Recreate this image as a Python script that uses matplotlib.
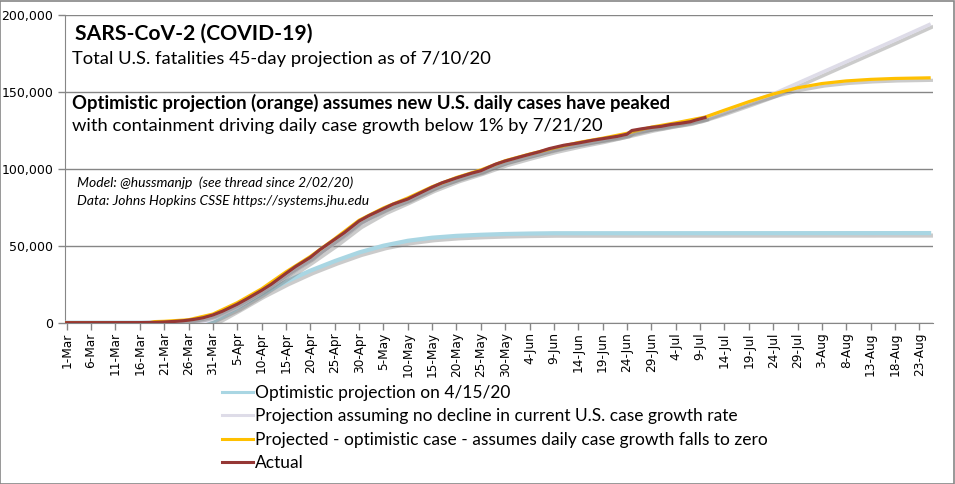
import matplotlib
matplotlib.use("Agg")
import matplotlib.pyplot as plt
import matplotlib.patheffects as pe
from matplotlib.patches import Rectangle

# tick labels (every 5 days from 1-Mar)
tick_labels = ["1-Mar", "6-Mar", "11-Mar", "16-Mar", "21-Mar", "26-Mar", "31-Mar",
               "5-Apr", "10-Apr", "15-Apr", "20-Apr", "25-Apr", "30-Apr",
               "5-May", "10-May", "15-May", "20-May", "25-May", "30-May",
               "4-Jun", "9-Jun", "14-Jun", "19-Jun", "24-Jun", "29-Jun",
               "4-Jul", "9-Jul", "14-Jul", "19-Jul", "24-Jul", "29-Jul",
               "3-Aug", "8-Aug", "13-Aug", "18-Aug", "23-Aug"]
tick_days = [5 * i for i in range(len(tick_labels))]

# Optimistic projection on 4/15/20 (light blue)
blue_day = [0, 27, 30, 35, 40, 45, 50, 55, 60, 65, 70, 75, 80, 85, 90, 95, 100, 177]
blue_val = [0, 0, 600, 9400, 18500, 26600, 33800, 40000, 45600, 50000, 53200,
            55200, 56400, 57100, 57600, 57900, 58100, 58200]

# Projection assuming no decline in current growth rate (lavender grey)
gray_day = [0, 25, 28, 30, 35, 40, 45, 50, 55, 60, 65, 70, 75, 80, 85, 90, 95, 100,
            105, 110, 115, 120, 125, 130, 135, 140, 145, 150, 155, 160, 165, 170, 177]
gray_val = [0, 0, 400, 2500, 10000, 19500, 30000, 40500, 51500, 63500, 72500, 79500,
            87000, 93200, 98200, 103800, 108200, 112300, 115800, 118900, 122500,
            126200, 129200, 132300, 137300, 142800, 148500, 155500, 162500, 169500,
            176500, 183500, 193500]

# Projected - optimistic case (orange)
orange_day = [0, 17, 18, 20, 25, 30, 35, 40, 45, 50, 55, 60, 65, 70, 75, 80, 85, 90,
              95, 100, 105, 110, 115, 120, 125, 131, 135, 140, 145, 150, 155, 160,
              165, 170, 177]
orange_val = [0, 0, 700, 900, 1900, 5600, 13000, 22000, 33000, 43000, 54500, 66500,
              74500, 81000, 88300, 94300, 99200, 105200, 109500, 113300, 117000,
              119800, 123000, 127000, 129800, 133500, 138000, 143500, 148500, 152500,
              155300, 157000, 158000, 158600, 159000]

# Actual (dark red)
actual_day = [0, 15, 18, 20, 22, 24, 26, 28, 30, 32, 35, 37, 40, 42, 45, 47, 50, 52,
              55, 57, 60, 62, 65, 67, 70, 72, 75, 77, 80, 83, 85, 88, 90, 94, 97, 99,
              102, 105, 108, 111, 113, 115, 116, 118, 120, 122, 124, 126, 128, 129, 131]
actual_val = [0, 50, 200, 450, 800, 1300, 2100, 3200, 5000, 7500, 12000, 15500,
              21000, 25000, 32000, 36500, 42400, 47500, 54100, 58500, 66000, 69500,
              74000, 77000, 80300, 83400, 88000, 90800, 94000, 97000, 98700, 102900,
              105000, 108500, 111000, 113000, 115200, 116700, 118500, 120000, 121000,
              122400, 124800, 125900, 126800, 127500, 128700, 129500, 130500, 131500,
              133200]

fig = plt.figure(figsize=(9.55, 4.84), dpi=100)
ax = fig.add_axes([65 / 955, 1 - 322.7 / 484, (933 - 65) / 955, (322.7 - 14.7) / 484])

shadow = [pe.SimpleLineShadow(offset=(1.8, -1.8), shadow_color="#7f7f7f", alpha=0.4),
          pe.Normal()]

ax.plot(blue_day, blue_val, color="#A9D6E3", lw=3.0, path_effects=shadow,
        label="Optimistic projection on 4/15/20", zorder=3)
ax.plot(gray_day, gray_val, color="#DEDCE8", lw=2.6, path_effects=shadow,
        label="Projection assuming no decline in current U.S. case growth rate", zorder=4)
ax.plot(orange_day, orange_val, color="#FFC000", lw=2.3, path_effects=shadow,
        label="Projected - optimistic case - assumes daily case growth falls to zero", zorder=5)
ax.plot(actual_day, actual_val, color="#953735", lw=2.3, path_effects=shadow,
        label="Actual", zorder=6)

ax.set_xlim(-0.35, 177.8)
ax.set_ylim(0, 200000)
ax.set_yticks([0, 50000, 100000, 150000, 200000])
ax.set_yticklabels(["0", "50,000", "100,000", "150,000", "200,000"])
ax.set_xticks(tick_days)
ax.set_xticklabels(tick_labels, rotation=90)
ax.tick_params(axis="both", labelsize=9, colors="#868686", labelcolor="black",
               length=5, width=1, direction="out")
ax.tick_params(axis="x", labelsize=8.7, pad=2)
ax.grid(axis="y", color="#868686", lw=1)
ax.set_axisbelow(True)
for side in ["top", "right"]:
    ax.spines[side].set_visible(False)
for side in ["left", "bottom"]:
    ax.spines[side].set_color("#868686")

def txt(x, y, s, **kw):
    fig.text(x / 955, 1 - y / 484, s, va="center", ha="left", family="Lato", **kw)

txt(75, 34, "SARS-CoV-2 (COVID-19)", fontsize=15.2, fontweight="bold")
txt(72, 59, "Total U.S. fatalities 45-day projection as of 7/10/20", fontsize=13.2)
txt(72, 103, "Optimistic projection (orange) assumes new U.S. daily cases have peaked",
    fontsize=13.3, fontweight="bold")
txt(72, 126, "with containment driving daily case growth below 1% by 7/21/20", fontsize=13.2)
txt(77, 183, "Model: @hussmanjp  (see thread since 2/02/20)", fontsize=10, style="italic")
txt(77, 201, "Data: Johns Hopkins CSSE https://systems.jhu.edu", fontsize=10, style="italic")

leg = fig.legend(loc="upper left", bbox_to_anchor=(222 / 955, 1 - 385 / 484),
                 frameon=False, prop={"family": "Lato", "size": 12.5},
                 handlelength=1.8, handletextpad=0.1, labelspacing=0.42,
                 borderpad=0, borderaxespad=0)
for h in leg.get_lines():
    h.set_linewidth(2.2)
    h.set_path_effects([])

fig.patches.append(Rectangle((0.0005, 0.001), 0.998, 0.997, transform=fig.transFigure,
                             fill=False, edgecolor="#868686", lw=1.2))

fig.savefig("out.png", dpi=100)
